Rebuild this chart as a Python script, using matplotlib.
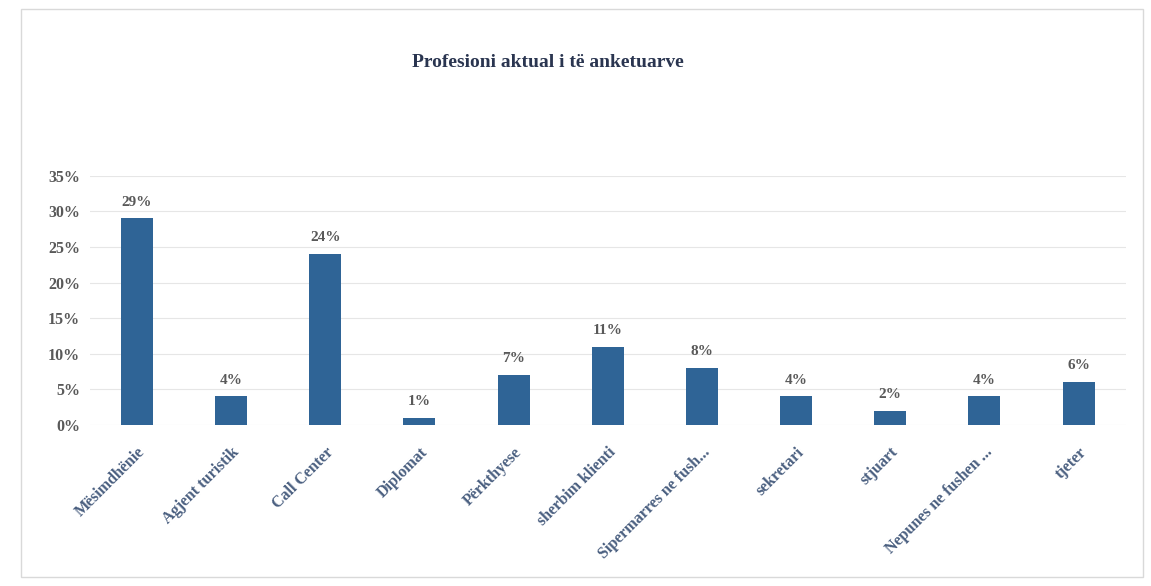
import matplotlib
matplotlib.use("Agg")
import matplotlib.pyplot as plt
from matplotlib.ticker import PercentFormatter
from matplotlib.patches import Rectangle

categories = ["Mësimdhënie", "Agjent turistik", "Call Center", "Diplomat",
              "Përkthyese", "sherbim klienti", "Sipermarres ne fush...",
              "sekretari", "stjuart", "Nepunes ne fushen ...", "tjeter"]
shares = [29, 4, 24, 1, 7, 11, 8, 4, 2, 4, 6]
y_ticks = [0, 5, 10, 15, 20, 25, 30, 35]

bar_color = "#2f6496"
text_gray = "#595959"

fig = plt.figure(figsize=(11.51, 5.86), dpi=100)
ax = fig.add_axes([0.078, 0.275, 0.900, 0.425])

x = list(range(len(categories)))
ax.bar(x, shares, width=0.34, color=bar_color, zorder=3)

for xi, v in zip(x, shares):
    ax.annotate(f"{v}%", (xi, v), xytext=(0, 7), textcoords="offset points",
                ha="center", va="bottom", fontsize=11, color=text_gray,
                family="Liberation Serif", fontweight="bold")

ax.set_ylim(0, 35)
ax.set_xlim(-0.5, len(categories) - 0.5)
ax.set_yticks(y_ticks)
ax.yaxis.set_major_formatter(PercentFormatter(decimals=0))
ax.grid(axis="y", color="#e6e6e6", linewidth=0.8, zorder=0)
for side in ["top", "right", "left", "bottom"]:
    ax.spines[side].set_visible(False)
ax.tick_params(axis="both", length=0, labelsize=11.5, colors=text_gray)
ax.tick_params(axis="y", pad=7)
for lab in ax.get_yticklabels():
    lab.set_family("Liberation Serif")
    lab.set_fontweight("bold")

ax.set_xticks(x)
ax.set_xticklabels(categories, rotation=45, ha="right", rotation_mode="anchor",
                   fontsize=11.5, family="Liberation Serif", fontweight="bold",
                   color="#4a5f80")
ax.tick_params(axis="x", pad=14)

fig.text(0.476, 0.894, "Profesioni aktual i të anketuarve", ha="center", va="center",
         fontsize=14, fontweight="bold", family="Liberation Serif", color="#2a3550")

# light frame around the chart area
fig.patches.append(Rectangle((0.018, 0.015), 0.975, 0.97, transform=fig.transFigure,
                             fill=False, edgecolor="#d9d9d9", linewidth=1.0))

fig.savefig("out.png", dpi=100, facecolor="white")
